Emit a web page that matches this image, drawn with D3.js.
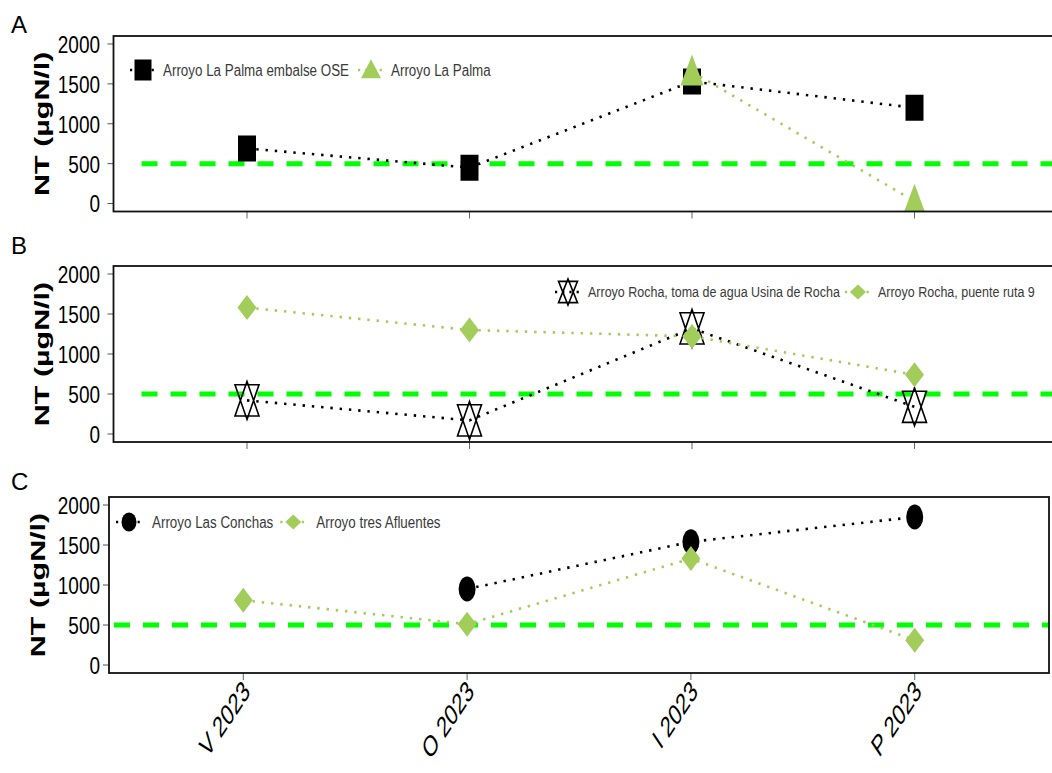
<!DOCTYPE html>
<html>
<head>
<meta charset="utf-8">
<script src="https://cdn.jsdelivr.net/npm/d3@7"></script>
<style>
  html, body { margin: 0; padding: 0; background: #fff; }
  svg { display: block; font-family: "Liberation Sans", Arial, sans-serif; }
</style>
</head>
<body>
<svg id="chart" width="1052" height="773"></svg>
<script>
// ---------------- data ----------------
const periods = ["V 2023", "O 2023", "I 2023", "P 2023"];
const yTicks = [0, 500, 1000, 1500, 2000];
const threshold = 500;
const yLabel = "NT (µgN/l)";

const palmaOSE      = [690, 450, 1530, 1200];   // Arroyo La Palma embalse OSE
const palma         = [null, null, 1650, 30];   // Arroyo La Palma
const rochaUsina    = [420, 170, 1320, 340];    // Arroyo Rocha, toma de agua Usina de Rocha
const rochaRuta9    = [1580, 1300, 1220, 740];  // Arroyo Rocha, puente ruta 9
const lasConchas    = [null, 950, 1540, 1850];  // Arroyo Las Conchas
const tresAfluentes = [810, 510, 1330, 310];    // Arroyo tres Afluentes

const panelLetters = ["A", "B", "C"];
const seriesNames = [
  ["Arroyo La Palma embalse OSE", "Arroyo La Palma"],
  ["Arroyo Rocha, toma de agua Usina de Rocha", "Arroyo Rocha, puente ruta 9"],
  ["Arroyo Las Conchas", "Arroyo tres Afluentes"]
];
const seriesValues = [
  [palmaOSE, palma],
  [rochaUsina, rochaRuta9],
  [lasConchas, tresAfluentes]
];

// ---------------- styles / layout ----------------
const BLACK = "#000000";
const GREEN = "#A2CD5A";
const REF = "#00FF00";
const shapes = [["square", "triangle"], ["star", "diamond"], ["circle", "diamond"]];
const colors = [[BLACK, GREEN], [BLACK, GREEN], [BLACK, GREEN]];

const layout = [
  { left: 113.5, right: 1048, frameRight: 1062, top: 36,  bottom: 211.5, letterY: 33,  labelX: 49,
    legendX: 143, legendY: 70,  legendFont: 13.4, keyGap: 20, itemGap: 22, refStart: 28, refOffset: 0, xLabels: false },
  { left: 113.5, right: 1048, frameRight: 1062, top: 266, bottom: 442,   letterY: 254, labelX: 49,
    legendX: 568, legendY: 292, legendFont: 12.5, keyGap: 20, itemGap: 18, refStart: 28, refOffset: 0, xLabels: false },
  { left: 109,   right: 1049, frameRight: 1049, top: 497, bottom: 673,   letterY: 490, labelX: 45,
    legendX: 129, legendY: 522, legendFont: 13.4, keyGap: 23, itemGap: 20, refStart: 0, refOffset: 24, xLabels: true }
];

const svg = d3.select("#chart");

function symbolPath(shape, w, h) {
  const p = d3.path();
  const hw = w / 2, hh = h / 2;
  if (shape === "square") {
    p.rect(-hw, -hh, w, h);
  } else if (shape === "triangle") {
    p.moveTo(0, -h * 0.56); p.lineTo(hw, h * 0.44); p.lineTo(-hw, h * 0.44); p.closePath();
  } else if (shape === "diamond") {
    p.moveTo(0, -hh); p.lineTo(hw, 0); p.lineTo(0, hh); p.lineTo(-hw, 0); p.closePath();
  } else if (shape === "star") {
    const b = hh * 0.82;
    p.moveTo(0, -hh); p.lineTo(hw, b); p.lineTo(-hw, b); p.closePath();
    p.moveTo(0, hh); p.lineTo(hw, -b); p.lineTo(-hw, -b); p.closePath();
  }
  return p.toString();
}

function drawSymbol(g, shape, color, x, y, w, h) {
  if (shape === "circle") {
    g.append("ellipse").attr("cx", x).attr("cy", y).attr("rx", w / 2).attr("ry", h / 2).attr("fill", color);
  } else if (shape === "star") {
    g.append("path").attr("transform", `translate(${x},${y})`).attr("d", symbolPath(shape, w, h))
      .attr("fill", "none").attr("stroke", color).attr("stroke-width", 1.6).attr("stroke-linejoin", "miter");
  } else {
    g.append("path").attr("transform", `translate(${x},${y})`).attr("d", symbolPath(shape, w, h)).attr("fill", color);
  }
}

const dataSizes = { square: [18, 26], triangle: [23, 31], diamond: [19, 25], circle: [17, 25], star: [24, 38] };
const legendSizes = { square: [17, 21], triangle: [20, 19], diamond: [16, 15], circle: [15, 19], star: [19, 26] };

function stretchedText(g, x, y, k, txt) {
  return g.append("text").attr("transform", `translate(${x},${y}) scale(1,${k})`).text(txt);
}

layout.forEach((L, pi) => {
  const g = svg.append("g");
  const x = d3.scalePoint().domain(periods).range([L.left, L.right]).padding(0.6);
  const y = d3.scaleLinear().domain([-100, 2100]).range([L.bottom, L.top]);

  const clipId = "clip" + pi;
  svg.append("clipPath").attr("id", clipId).append("rect")
    .attr("x", L.left).attr("y", L.top).attr("width", L.frameRight - L.left).attr("height", L.bottom - L.top);

  // panel letter
  g.append("text").attr("x", 11).attr("y", L.letterY).attr("font-size", 24).attr("fill", "#000").text(panelLetters[pi]);

  // y axis title
  g.append("text")
    .attr("transform", `translate(${L.labelX},${(L.top + L.bottom) / 2}) scale(1,1.45) rotate(-90)`)
    .attr("text-anchor", "middle").attr("font-size", 21).attr("font-weight", "bold").attr("fill", "#000")
    .text(yLabel);

  // y ticks
  const yt = g.append("g");
  yTicks.forEach(t => {
    yt.append("line").attr("x1", L.left - 6).attr("x2", L.left).attr("y1", y(t)).attr("y2", y(t))
      .attr("stroke", "#555").attr("stroke-width", 1);
    stretchedText(yt, 100, y(t), 1.3, d3.format("d")(t))
      .attr("dy", "0.36em").attr("text-anchor", "end").attr("font-size", 19).attr("fill", "#000");
  });

  // x ticks
  periods.forEach(p => {
    g.append("line").attr("x1", x(p)).attr("x2", x(p)).attr("y1", L.bottom).attr("y2", L.bottom + 7)
      .attr("stroke", "#666").attr("stroke-width", 1);
  });
  if (L.xLabels) {
    periods.forEach(p => {
      g.append("text")
        .attr("transform", `translate(${x(p) + 8},${L.bottom + 20}) scale(1,1.5) rotate(-45)`)
        .attr("text-anchor", "end").attr("font-size", 19.5).attr("fill", "#000").text(p);
    });
  }

  const plot = g.append("g").attr("clip-path", `url(#${clipId})`);

  // reference line
  plot.append("line").attr("x1", L.left + L.refStart).attr("x2", L.frameRight).attr("y1", y(threshold)).attr("y2", y(threshold))
    .attr("stroke", REF).attr("stroke-width", 5).attr("stroke-dasharray", "16,13")
    .attr("stroke-dashoffset", L.refOffset);

  // series
  seriesValues[pi].forEach((vals, si) => {
    const pts = periods.map((p, i) => ({ p, v: vals[i] })).filter(d => d.v !== null);
    const line = d3.line().x(d => x(d.p)).y(d => y(d.v));
    plot.append("path").attr("d", line(pts)).attr("fill", "none")
      .attr("stroke", colors[pi][si]).attr("stroke-width", 2.6)
      .attr("stroke-dasharray", "2.4,6.9");
    const sz = dataSizes[shapes[pi][si]];
    pts.forEach(d => drawSymbol(plot, shapes[pi][si], colors[pi][si], x(d.p), y(d.v), sz[0], sz[1]));
  });

  // frame
  g.append("rect").attr("x", L.left).attr("y", L.top).attr("width", L.frameRight - L.left).attr("height", L.bottom - L.top)
    .attr("fill", "none").attr("stroke", "#111").attr("stroke-width", 1.8);

  // legend
  const lg = g.append("g");
  let cx = L.legendX;
  seriesNames[pi].forEach((name, si) => {
    lg.append("line").attr("x1", cx - 13).attr("x2", cx + 13).attr("y1", L.legendY).attr("y2", L.legendY)
      .attr("stroke", colors[pi][si]).attr("stroke-width", 2.4).attr("stroke-dasharray", "2.2,5");
    const sz = legendSizes[shapes[pi][si]];
    drawSymbol(lg, shapes[pi][si], colors[pi][si], cx, L.legendY, sz[0], sz[1]);
    const t = stretchedText(lg, cx + L.keyGap, L.legendY, 1.18, name)
      .attr("dy", "0.36em").attr("font-size", L.legendFont).attr("fill", "#3a3a3a");
    const w = t.node().getComputedTextLength();
    cx = cx + L.keyGap + w + L.itemGap;
  });
});
</script>
</body>
</html>
